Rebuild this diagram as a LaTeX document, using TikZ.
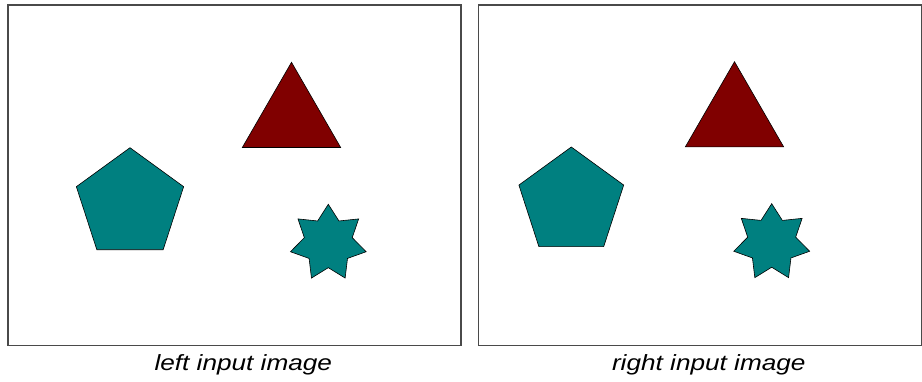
\documentclass[tikz,border=0pt]{standalone}
\usepackage{fontspec}
\setsansfont{Liberation Sans}
\usetikzlibrary{shapes.geometric}
\definecolor{frameink}{HTML}{4A4A4A}
\definecolor{tealfill}{HTML}{008080}
\definecolor{maroonfill}{HTML}{800000}
\tikzset{line width=.7pt,
  every node/.style={inner sep=0pt,outer sep=0pt},
  panel/.style={draw=frameink,line width=1.3pt},
  tri/.style={regular polygon,regular polygon sides=3,fill=maroonfill,draw=black,line width=.6pt},
  penta/.style={regular polygon,regular polygon sides=5,fill=tealfill,draw=black,line width=.6pt},
  sevenstar/.style={star,star points=7,star point ratio=1.58,fill=tealfill,draw=black,line width=.6pt},
  caption/.style={anchor=base,xscale=1.19,font=\fontsize{22}{24}\selectfont\sffamily\itshape}}

\begin{document}
\begin{tikzpicture}[x=1pt,y=-1pt]
\useasboundingbox (0,0) rectangle (922,381);
% left input image
\draw[panel] (8,5) rectangle (461,345.7);
\node[tri,minimum size=113.6] (ltri) at (291.5,119.1) {};
\node[penta,minimum size=112.8] (lpenta) at (130,204.1) {};
\node[sevenstar,minimum size=77.6] (lstar) at (328.3,243.1) {};
\node[caption] (lcap) at (243.3,370) {left input image};
% right input image
\draw[panel] (478.7,5) rectangle (921.2,345.7);
\node[tri,minimum size=113.6] (rtri) at (734.5,118.5) {};
\node[penta,minimum size=110.2] (rpenta) at (571.3,202.1) {};
\node[sevenstar,minimum size=77.8] (rstar) at (771.7,242.6) {};
\node[caption] (rcap) at (708.8,370) {right input image};
\end{tikzpicture}
\end{document}
